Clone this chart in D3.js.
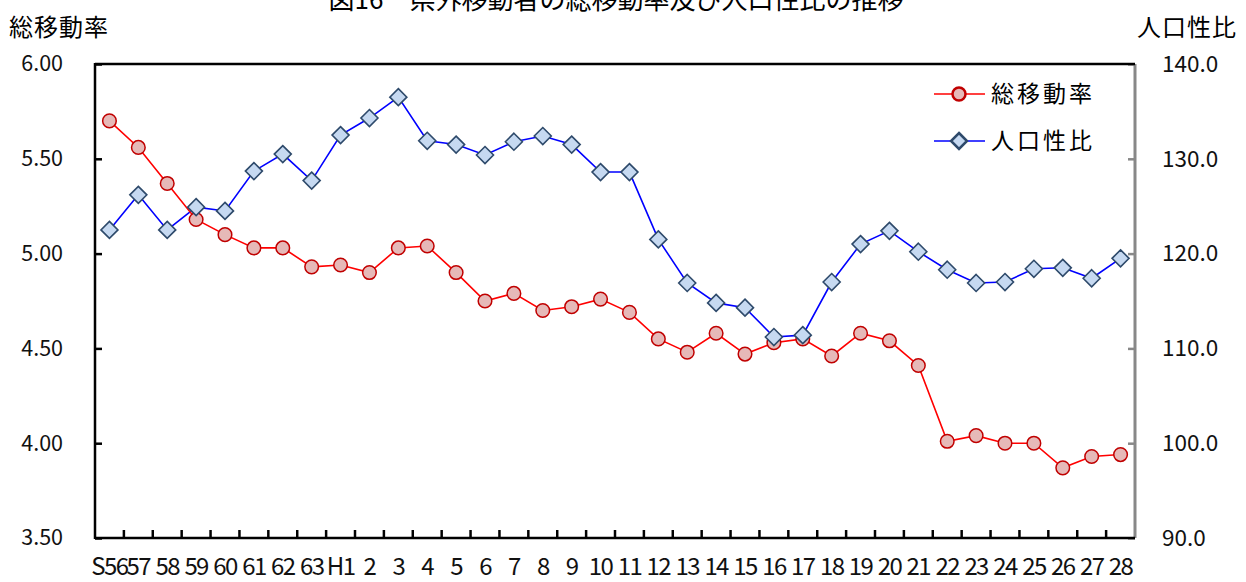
<!DOCTYPE html>
<html><head><meta charset="utf-8">
<script src="https://cdn.jsdelivr.net/npm/d3@7"></script>
<style>body{margin:0;background:#fff}svg{display:block}text{font-family:"Noto Sans CJK JP","Noto Sans",sans-serif}</style>
</head><body><svg id="c" width="1246" height="582"></svg>
<script>
const categories = ["S56","57","58","59","60","61","62","63","H1","2","3","4","5","6","7","8","9","10","11","12","13","14","15","16","17","18","19","20","21","22","23","24","25","26","27","28"];
const moveRate = [5.70,5.56,5.37,5.18,5.10,5.03,5.03,4.93,4.94,4.90,5.03,5.04,4.90,4.75,4.79,4.70,4.72,4.76,4.69,4.55,4.48,4.58,4.47,4.53,4.55,4.46,4.58,4.54,4.41,4.01,4.04,4.00,4.00,3.87,3.93,3.94];
const sexRatio = [122.5,126.2,122.5,124.9,124.5,128.7,130.5,127.7,132.5,134.3,136.5,131.9,131.5,130.4,131.8,132.4,131.5,128.6,128.6,121.5,116.9,114.8,114.3,111.2,111.4,117.0,121.0,122.4,120.2,118.3,116.9,117.0,118.4,118.5,117.4,119.5];
const leftTicks = [3.5,4.0,4.5,5.0,5.5,6.0];
const rightTicks = [90,100,110,120,130,140];
const seriesNames = ["総移動率","人口性比"];
const title = "図16　県外移動者の総移動率及び人口性比の推移";

const svg = d3.select("#c");
const L=95,R=1135,T=64,B=538;
const x = d3.scaleBand().domain(categories).range([L,R]);
const yL = d3.scaleLinear().domain([3.5,6.0]).range([B,T]);
const yR = d3.scaleLinear().domain([90,140]).range([B,T]);
const cx = d => x(d)+x.bandwidth()/2;

// title & axis titles
svg.append("text").attr("x",616).attr("y",9).attr("text-anchor","middle").attr("font-size",26).text(title);
svg.append("text").attr("x",9).attr("y",36).attr("font-size",24).attr("letter-spacing",1).text("総移動率");
svg.append("text").attr("x",1237).attr("y",36).attr("text-anchor","end").attr("font-size",24).attr("letter-spacing",1).text("人口性比");

// axes
const fmtL = d3.format(".2f"), fmtR = d3.format(".1f");
const gL = svg.append("g").attr("transform",`translate(${L},0)`)
  .call(d3.axisLeft(yL).tickValues(leftTicks).tickFormat(fmtL).tickSize(-7).tickPadding(32));
gL.select(".domain").remove();
gL.selectAll("line").attr("stroke","#000").attr("stroke-width",2.5);
gL.selectAll("text").attr("font-size",21.5).attr("fill","#111");

const gR = svg.append("g").attr("transform",`translate(${R},0)`)
  .call(d3.axisRight(yR).tickValues(rightTicks).tickFormat(fmtR).tickSize(-7).tickPadding(27));
gR.select(".domain").remove();
gR.selectAll("line").attr("stroke","#888").attr("stroke-width",2.5);
gR.selectAll("text").attr("font-size",22.5).attr("fill","#111");

const gB = svg.append("g").attr("transform",`translate(0,${B})`)
  .call(d3.axisBottom(x).tickSize(0).tickPadding(20));
gB.select(".domain").remove();
gB.selectAll("text").attr("font-size",24).attr("fill","#111").attr("letter-spacing",-1.6);
// boundary ticks
const bounds = categories.slice(1).map(c=>x(c));
svg.append("g").selectAll("line").data(bounds).join("line")
  .attr("x1",d=>d).attr("x2",d=>d).attr("y1",B).attr("y2",B-8)
  .attr("stroke","#000").attr("stroke-width",2.5);

// frame
svg.append("line").attr("x1",R).attr("x2",R).attr("y1",T).attr("y2",B).attr("stroke","#888").attr("stroke-width",3);
svg.append("line").attr("x1",L).attr("x2",R).attr("y1",T).attr("y2",T).attr("stroke","#000").attr("stroke-width",2.5);
svg.append("line").attr("x1",L).attr("x2",R).attr("y1",B).attr("y2",B).attr("stroke","#000").attr("stroke-width",2.5);
svg.append("line").attr("x1",L).attr("x2",L).attr("y1",T-1).attr("y2",B+1).attr("stroke","#000").attr("stroke-width",2.5);

// series
const lineL = d3.line().x((d,i)=>cx(categories[i])).y(d=>yL(d));
const lineR = d3.line().x((d,i)=>cx(categories[i])).y(d=>yR(d));
const diamond = (s)=>`M0,${-s}L${s},0L0,${s}L${-s},0Z`;

svg.append("path").attr("d",lineR(sexRatio)).attr("fill","none").attr("stroke","#0000ff").attr("stroke-width",1.6);
svg.append("path").attr("d",lineL(moveRate)).attr("fill","none").attr("stroke","#ff0000").attr("stroke-width",1.6);

svg.append("g").selectAll("circle").data(moveRate).join("circle")
  .attr("cx",(d,i)=>cx(categories[i])).attr("cy",d=>yL(d)).attr("r",6.8)
  .attr("fill","#e6b9b8").attr("stroke","#c00000").attr("stroke-width",1.5);
svg.append("g").selectAll("path").data(sexRatio).join("path")
  .attr("transform",(d,i)=>`translate(${cx(categories[i])},${yR(d)})`).attr("d",diamond(8.5))
  .attr("fill","#c6d9f1").attr("stroke","#2e4a6b").attr("stroke-width",1.6);

// legend
const lg = svg.append("g");
lg.append("line").attr("x1",934).attr("x2",985).attr("y1",94).attr("y2",94).attr("stroke","#ff0000").attr("stroke-width",1.6);
lg.append("circle").attr("cx",959).attr("cy",94).attr("r",6.5).attr("fill","#e6b9b8").attr("stroke","#c00000").attr("stroke-width",2.5);
lg.append("text").attr("x",991).attr("y",102).attr("font-size",23).attr("letter-spacing",3).text(seriesNames[0]);
lg.append("line").attr("x1",934).attr("x2",985).attr("y1",141).attr("y2",141).attr("stroke","#0000ff").attr("stroke-width",1.6);
lg.append("path").attr("transform","translate(959,141)").attr("d",diamond(8)).attr("fill","#c6d9f1").attr("stroke","#2e4a6b").attr("stroke-width",2.5);
lg.append("text").attr("x",991).attr("y",149).attr("font-size",23).attr("letter-spacing",3).text(seriesNames[1]);
</script></body></html>
